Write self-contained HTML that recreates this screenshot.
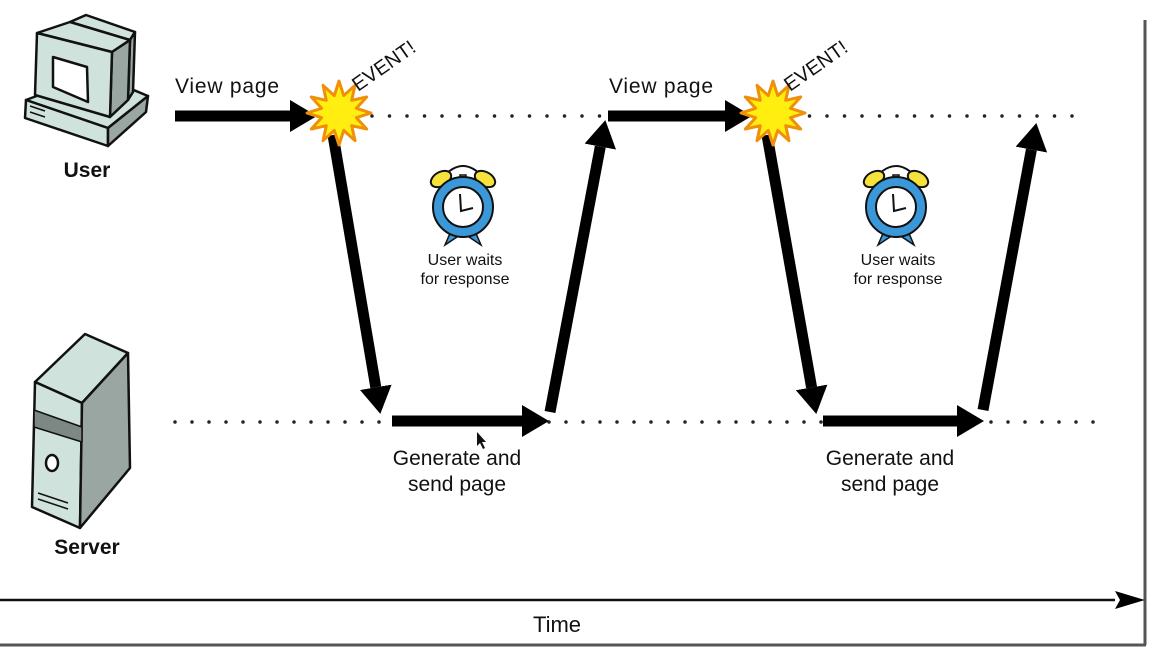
<!DOCTYPE html>
<html><head><meta charset="utf-8"><style>
html,body{margin:0;padding:0;background:#fff;}
svg{display:block;}
text{font-family:"Liberation Sans",sans-serif;fill:#111;}
</style></head><body>
<svg width="1176" height="660" viewBox="0 0 1176 660" xmlns="http://www.w3.org/2000/svg">
<defs>
<marker id="ah" markerUnits="userSpaceOnUse" markerWidth="28" markerHeight="32" refX="0" refY="16" orient="auto">
<path d="M0,0 L27,16 L0,32 Z" fill="#000"/>
</marker>
<marker id="tah" markerUnits="userSpaceOnUse" markerWidth="32" markerHeight="20" refX="0" refY="10" orient="auto">
<path d="M0,1 L30,10 L0,19 L5,10 Z" fill="#000"/>
</marker>
</defs>
<rect width="1176" height="660" fill="#fff"/>
<line x1="1145" y1="20" x2="1145" y2="645" stroke="#555" stroke-width="3"/>
<line x1="0" y1="645" x2="1146" y2="645" stroke="#555" stroke-width="3"/>
<line x1="0" y1="600" x2="1115" y2="600" stroke="#111" stroke-width="2.5" marker-end="url(#tah)"/>
<text x="557" y="632" font-size="22" text-anchor="middle">Time</text>

<line x1="372" y1="116" x2="1080" y2="116" stroke="#222" stroke-width="3.5" stroke-dasharray="0 17.5" stroke-linecap="round"/>
<line x1="175" y1="422" x2="1105" y2="422" stroke="#222" stroke-width="3.5" stroke-dasharray="0 17" stroke-linecap="round"/>

<!-- computer -->
<g stroke="#111" stroke-width="2.5" stroke-linejoin="round">
<polygon points="26,100 95,74 148,96 108,128" fill="#cfe3dc"/>
<polygon points="26,100 108,128 108,146 25,118" fill="#cfe3dc"/>
<polygon points="108,128 148,96 146,112 108,146" fill="#9aa6a2"/>
<polygon points="70,22 86,15 135,32 130,40" fill="#cfe3dc"/>
<polygon points="130,40 135,32 133,92 128,100" fill="#9aa6a2"/>
<polygon points="37,33 70,22 130,40 112,52" fill="#cfe3dc"/>
<polygon points="112,52 130,40 128,100 110,117" fill="#9aa6a2"/>
<polygon points="37,33 112,52 110,117 35,95" fill="#cfe3dc"/>
<polygon points="53,57 87,67 88,102 53,87" fill="#fff"/>
<line x1="30" y1="106" x2="45" y2="111" stroke-width="1.5"/>
<line x1="30" y1="112" x2="45" y2="117" stroke-width="1.5"/>
</g>
<text x="87" y="177" font-size="21" font-weight="bold" text-anchor="middle">User</text>

<!-- server -->
<g stroke="#111" stroke-width="2.5" stroke-linejoin="round">
<polygon points="35,382 85,334 128,353 82,403" fill="#cfe3dc"/>
<polygon points="35,382 82,403 80,528 32,507" fill="#cfe3dc"/>
<polygon points="82,403 128,353 130,468 80,528" fill="#9aa6a2"/>
<polygon points="34,410 82,427 82,442 34,427" fill="#7d8784" stroke-width="1.5"/>
<ellipse cx="52" cy="463" rx="6" ry="8" fill="#fff"/>
<line x1="38" y1="493" x2="68" y2="503" stroke-width="1.5"/>
<line x1="38" y1="499" x2="68" y2="509" stroke-width="1.5"/>
</g>
<text x="87" y="554" font-size="21" font-weight="bold" text-anchor="middle">Server</text>

<g stroke="#000" stroke-width="11" fill="none">
<line x1="175" y1="116" x2="290" y2="116" marker-end="url(#ah)"/>
<line x1="333" y1="135" x2="375.8" y2="387.3" marker-end="url(#ah)"/>
<line x1="392" y1="421" x2="522" y2="421" marker-end="url(#ah)"/>
<line x1="550" y1="412" x2="600.3" y2="146.6" marker-end="url(#ah)"/>
<line x1="608" y1="116" x2="725" y2="116" marker-end="url(#ah)"/>
<line x1="767" y1="135" x2="811.6" y2="387.4" marker-end="url(#ah)"/>
<line x1="823" y1="421" x2="957" y2="421" marker-end="url(#ah)"/>
<line x1="983" y1="410" x2="1031.4" y2="149.6" marker-end="url(#ah)"/>
</g>

<g transform="translate(339,113)">
<polygon points="32,0 17.4,4.7 27.7,16 12.7,12.7 16,27.7 4.7,17.4 0,32 -4.7,17.4 -16,27.7 -12.7,12.7 -27.7,16 -17.4,4.7 -32,0 -17.4,-4.7 -27.7,-16 -12.7,-12.7 -16,-27.7 -4.7,-17.4 0,-32 4.7,-17.4 16,-27.7 12.7,-12.7 27.7,-16 17.4,-4.7" fill="#ffee10" stroke="#f0900a" stroke-width="3" stroke-linejoin="round"/>
</g>
<g transform="translate(773,113)">
<polygon points="32,0 17.4,4.7 27.7,16 12.7,12.7 16,27.7 4.7,17.4 0,32 -4.7,17.4 -16,27.7 -12.7,12.7 -27.7,16 -17.4,4.7 -32,0 -17.4,-4.7 -27.7,-16 -12.7,-12.7 -16,-27.7 -4.7,-17.4 0,-32 4.7,-17.4 16,-27.7 12.7,-12.7 27.7,-16 17.4,-4.7" fill="#ffee10" stroke="#f0900a" stroke-width="3" stroke-linejoin="round"/>
</g>
<text transform="translate(358,92) rotate(-35)" font-size="20">EVENT!</text>
<text transform="translate(790,92) rotate(-35)" font-size="20">EVENT!</text>

<text x="175" y="93" font-size="21" textLength="104">View page</text>
<text x="609" y="93" font-size="21" textLength="104">View page</text>
<text x="457" y="465" font-size="21" text-anchor="middle">Generate and</text>
<text x="457" y="491" font-size="21" text-anchor="middle">send page</text>
<text x="890" y="465" font-size="21" text-anchor="middle">Generate and</text>
<text x="890" y="491" font-size="21" text-anchor="middle">send page</text>

<g transform="translate(463,207)">
<path d="M-20,-30 Q0,-52 20,-30" fill="none" stroke="#111" stroke-width="2"/>
<path d="M-12,24 L-18,38 L-6,30 Z M12,24 L18,38 L6,30 Z" fill="#3a97d8" stroke="#111" stroke-width="1.5"/>
<ellipse cx="-22" cy="-28" rx="11" ry="7" transform="rotate(-30 -22 -28)" fill="#f6e23a" stroke="#111" stroke-width="2"/>
<ellipse cx="22" cy="-28" rx="11" ry="7" transform="rotate(30 22 -28)" fill="#f6e23a" stroke="#111" stroke-width="2"/>
<path d="M-3,-32 L3,-32 L2,-26 L-2,-26 Z" fill="#f6e23a" stroke="#111" stroke-width="1.5"/>
<circle r="30" fill="#3a97d8" stroke="#111" stroke-width="2"/>
<circle r="20" fill="#fff" stroke="#111" stroke-width="2"/>
<path d="M-3,-13 L-2,4 L10,1" fill="none" stroke="#111" stroke-width="2"/>
</g>
<text x="465" y="265" font-size="16" text-anchor="middle">User waits</text>
<text x="465" y="284" font-size="16" text-anchor="middle">for response</text>
<g transform="translate(896,207)">
<path d="M-20,-30 Q0,-52 20,-30" fill="none" stroke="#111" stroke-width="2"/>
<path d="M-12,24 L-18,38 L-6,30 Z M12,24 L18,38 L6,30 Z" fill="#3a97d8" stroke="#111" stroke-width="1.5"/>
<ellipse cx="-22" cy="-28" rx="11" ry="7" transform="rotate(-30 -22 -28)" fill="#f6e23a" stroke="#111" stroke-width="2"/>
<ellipse cx="22" cy="-28" rx="11" ry="7" transform="rotate(30 22 -28)" fill="#f6e23a" stroke="#111" stroke-width="2"/>
<path d="M-3,-32 L3,-32 L2,-26 L-2,-26 Z" fill="#f6e23a" stroke="#111" stroke-width="1.5"/>
<circle r="30" fill="#3a97d8" stroke="#111" stroke-width="2"/>
<circle r="20" fill="#fff" stroke="#111" stroke-width="2"/>
<path d="M-3,-13 L-2,4 L10,1" fill="none" stroke="#111" stroke-width="2"/>
</g>
<text x="898" y="265" font-size="16" text-anchor="middle">User waits</text>
<text x="898" y="284" font-size="16" text-anchor="middle">for response</text>

<path d="M477,432 L477,446 L480,443 L483,449 L485,448 L482,442 L486,442 Z" fill="#111"/>
</svg>
</body></html>
